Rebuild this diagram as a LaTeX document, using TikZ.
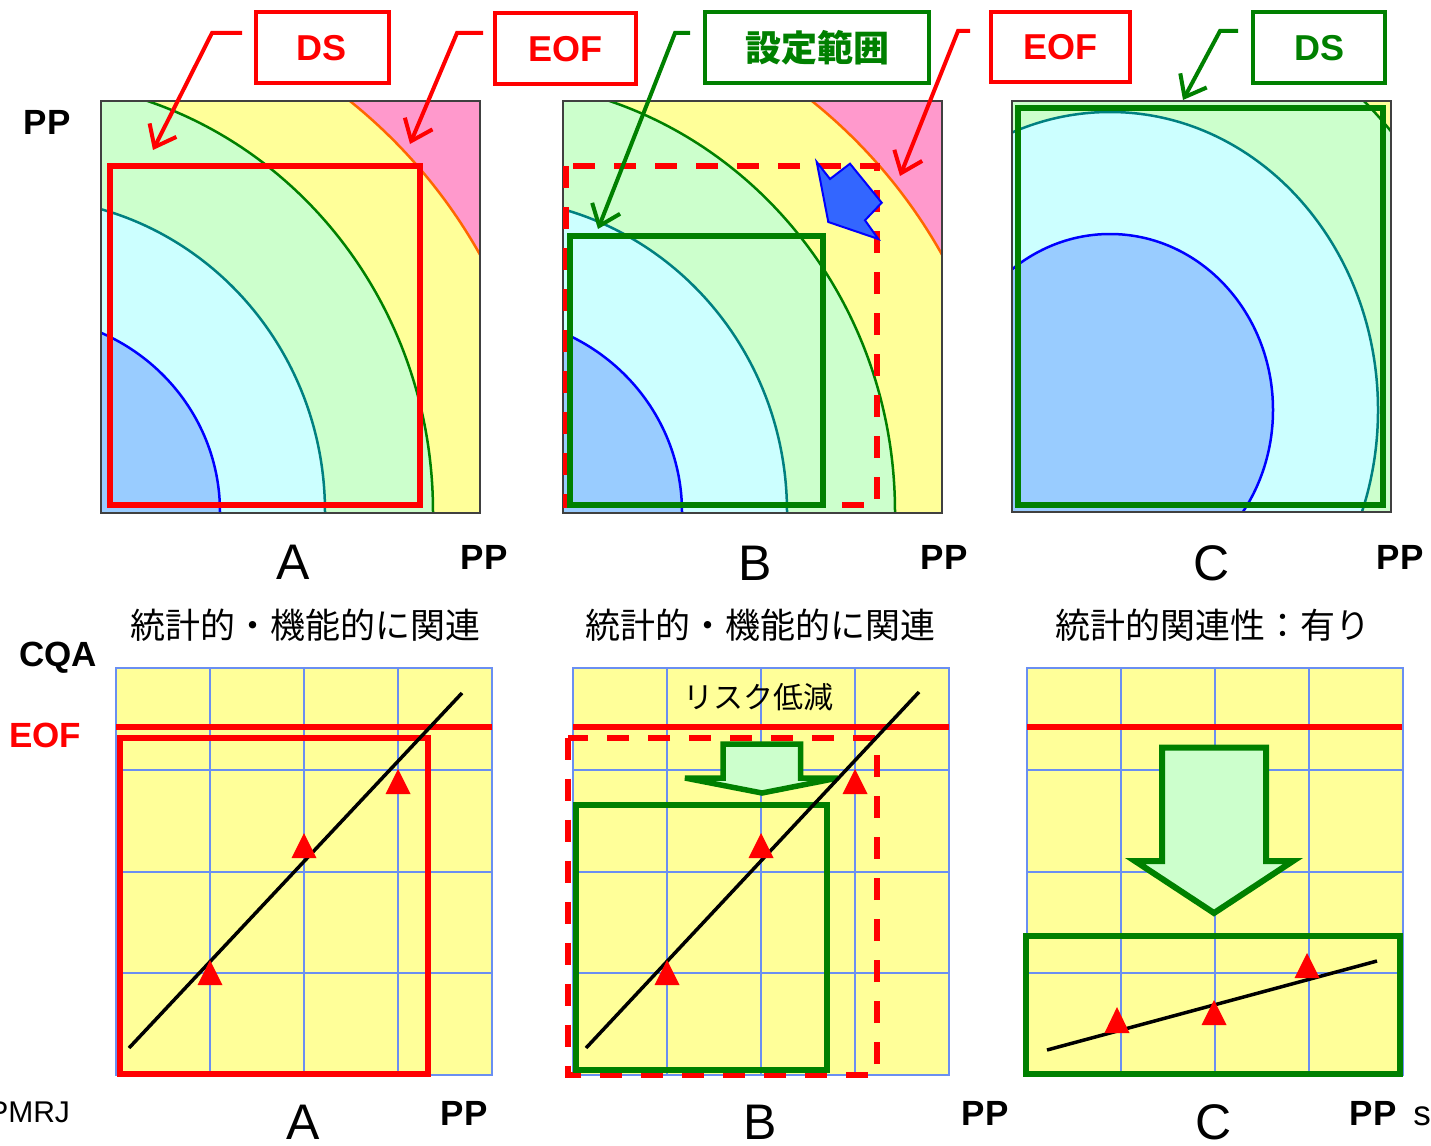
\documentclass[tikz,border=0pt]{standalone}
\usepackage{fontspec}
\setmainfont{Liberation Sans}
\newfontfamily\cjk{Noto Sans CJK JP}
\usetikzlibrary{arrows.meta}
\definecolor{cpink}{HTML}{FF99CC}
\definecolor{cyel}{HTML}{FFFF99}
\definecolor{cgrn}{HTML}{CCFFCC}
\definecolor{ccyan}{HTML}{CCFFFF}
\definecolor{cblue}{HTML}{99CCFF}
\definecolor{dgreen}{HTML}{008000}
\definecolor{tealc}{HTML}{008080}
\definecolor{orng}{HTML}{FF6600}
\definecolor{gridb}{HTML}{6A8FF2}
\definecolor{arrblue}{HTML}{3366FF}
\definecolor{pborder}{HTML}{404040}

\tikzset{
  every node/.style={inner sep=0pt, outer sep=0pt},
  boldlbl/.style={font=\fontsize{35}{40}\selectfont\bfseries},
  biglbl/.style={font=\fontsize{50}{56}\selectfont},
  jtitle/.style={font=\cjk\fontsize{35}{40}\selectfont},
  tagbox/.style={draw, fill=white, line width=4pt, minimum height=71pt, font=\fontsize{36}{40}\selectfont\bfseries},
  callout/.style={line width=4pt, line join=miter, -{Straight Barb[length=19pt,width=30pt]}},
  gridline/.style={draw=gridb, line width=1.8pt},
  arcline/.style={line width=2.5pt},
  panelborder/.style={draw=pborder, line width=1.4pt},
  thickbox/.style={line width=6pt},
  dashbox/.style={draw=red, line width=6pt, dash pattern=on 22pt off 19pt},
  blockarrow/.style={draw=dgreen, fill=cgrn, line width=5.5pt, line join=miter},
  trend/.style={line width=3.5pt},
}

\newcommand\arcsAB{%
  \begin{scope}
    \clip (101,101) rectangle (480,513);
    \fill[cpink] (101,101) rectangle (480,513);
    \filldraw[fill=cyel, draw=orng, arcline] (20,512) ellipse [x radius=527pt, y radius=527pt];
    \filldraw[fill=cgrn, draw=dgreen, arcline] (20,512) ellipse [x radius=413pt, y radius=432pt];
    \filldraw[fill=ccyan, draw=tealc, arcline] (20,512) ellipse [x radius=305pt, y radius=314pt];
    \filldraw[fill=cblue, draw=blue, arcline] (20,512) ellipse [x radius=200pt, y radius=196pt];
  \end{scope}
  \draw[panelborder] (101,101) rectangle (480,513);}

\newcommand\gridpanel{%
  \fill[cyel] (0,0) rectangle (376,407);
  \foreach \gx in {94,188,282} {\draw[gridline] (\gx,0) -- (\gx,407);}
  \foreach \gy in {102,204,305} {\draw[gridline] (0,\gy) -- (376,\gy);}
  \draw[gridline] (0,0) rectangle (376,407);}

\newcommand\redtri[3]{\fill[red] (#1,#2) -- ({#1+12.5},#3) -- ({#1-12.5},#3) -- cycle;}

\begin{document}
\begin{tikzpicture}[x=1pt,y=-1pt]
\useasboundingbox (0,0) rectangle (1431,1145);
\fill[white] (0,0) rectangle (1431,1145);

% ---------- top panels ----------
\arcsAB
\begin{scope}[shift={(462,0)}]
  \arcsAB
\end{scope}
\begin{scope}
  \clip (1012,101) rectangle (1391,512);
  \fill[cyel] (1012,101) rectangle (1391,512);
  \filldraw[fill=cgrn, draw=dgreen, arcline] (1110,410) ellipse [x radius=377pt, y radius=418pt];
  \filldraw[fill=ccyan, draw=tealc, arcline] (1110,410) ellipse [x radius=268pt, y radius=298pt];
  \filldraw[fill=cblue, draw=blue, arcline] (1110,410) ellipse [x radius=163pt, y radius=176pt];
\end{scope}
\draw[panelborder] (1012,101) rectangle (1391,512);

% panel A: DS
\draw[red, thickbox] (110,166) rectangle (420,505);
% panel B: dashed EOF and green set range
\draw[dashbox] (566,166) rectangle (877,505);
\draw[dgreen, thickbox] (569.5,236) rectangle (822.5,505);
\draw[draw=blue, fill=arrblue, line width=2pt, line join=miter]
  (816.7,162) -- (830,179) -- (850,163.7) -- (881.7,202.7) -- (865,220.3)
  -- (878.3,239) -- (828.3,222) -- cycle;
% panel C: DS
\draw[dgreen, thickbox] (1018,108.5) rectangle (1383,505);

% tag boxes
\node[tagbox, draw=red, text=red, minimum width=133pt] (dsA) at (322,48) {DS};
\node[tagbox, draw=red, text=red, minimum width=141pt] (eofA) at (565.5,49) {EOF};
\node[tagbox, draw=dgreen, text=dgreen, minimum width=224pt, font=\cjk\fontsize{36}{40}\selectfont\bfseries] (setB) at (817,48) {設定範囲};
\node[tagbox, draw=red, text=red, minimum width=139pt, minimum height=70pt] (eofB) at (1060,47) {EOF};
\node[tagbox, draw=dgreen, text=dgreen, minimum width=132pt] (dsC) at (1319,48) {DS};

% callouts
\coordinate (dsAs) at (242,33);  \coordinate (dsAk) at (212,33);  \coordinate (dsAt) at (153,150);
\coordinate (eofAs) at (483,33); \coordinate (eofAk) at (457,33); \coordinate (eofAt) at (410,144);
\coordinate (setBs) at (690,33); \coordinate (setBk) at (675,33); \coordinate (setBt) at (598,229);
\coordinate (eofBs) at (970,31); \coordinate (eofBk) at (958,31); \coordinate (eofBt) at (900,176);
\coordinate (dsCs) at (1238,31); \coordinate (dsCk) at (1220,31); \coordinate (dsCt) at (1183,100);
\draw[callout, red] (dsAs) -- (dsAk) -- (dsAt);
\draw[callout, red] (eofAs) -- (eofAk) -- (eofAt);
\draw[callout, dgreen] (setBs) -- (setBk) -- (setBt);
\draw[callout, red] (eofBs) -- (eofBk) -- (eofBt);
\draw[callout, dgreen] (dsCs) -- (dsCk) -- (dsCt);

% top labels
\node[boldlbl] (ppY) at (47,122) {PP};
\node[biglbl] (labA) at (293,562) {A};
\node[boldlbl] (ppA) at (484,557) {PP};
\node[biglbl] (labB) at (755,563) {B};
\node[boldlbl] (ppB) at (944,557) {PP};
\node[biglbl] (labC) at (1212,563) {C};
\node[boldlbl] (ppC) at (1400,557) {PP};

% titles
\node[jtitle] (titA) at (305,625) {統計的・機能的に関連};
\node[jtitle] (titB) at (760,625) {統計的・機能的に関連};
\node[jtitle] (titC) at (1213,625) {統計的関連性：有り};
\node[boldlbl] (cqa) at (58,658) {CQA};
\node[boldlbl, text=red] (eofL) at (45,735) {EOF};

% ---------- bottom panel A ----------
\begin{scope}[shift={(116,668)}] \gridpanel \end{scope}
\draw[red, line width=6pt] (116,726.5) -- (492,726.5);
\draw[red, thickbox] (120,737.5) rectangle (427.5,1074);
\draw[trend] (129,1048) -- (462,693);
\redtri{210}{960}{985}
\redtri{304}{833}{858}
\redtri{398}{769}{794}

% ---------- bottom panel B ----------
\begin{scope}[shift={(573,668)}] \gridpanel \end{scope}
\draw[red, line width=6pt] (573,726.5) -- (949,726.5);
\node[font=\cjk\fontsize{30}{34}\selectfont] (risk) at (758,697) {リスク低減};
\draw[dashbox] (568,737.5) rectangle (876.5,1074.5);
\draw[blockarrow] (723,744) -- (800.5,744) -- (800.5,778) -- (838,778) -- (762,793)
  -- (685,778) -- (723,778) -- cycle;
\draw[dgreen, thickbox] (575.5,804.5) rectangle (827,1069.5);
\draw[trend] (586,1048) -- (919,692);
\redtri{667}{960}{985}
\redtri{761}{833}{858}
\redtri{855}{769}{794}

% ---------- bottom panel C ----------
\begin{scope}[shift={(1027,668)}] \gridpanel \end{scope}
\draw[red, line width=6pt] (1027,726.5) -- (1402,726.5);
\draw[blockarrow, line width=6pt] (1162,747.5) -- (1266,747.5) -- (1266,861) -- (1293,861)
  -- (1214,913) -- (1135,861) -- (1162,861) -- cycle;
\draw[dgreen, thickbox] (1026,935.5) rectangle (1400,1074);
\draw[trend] (1047,1050) -- (1377,961);
\redtri{1117}{1007}{1033}
\redtri{1214}{1000}{1025}
\redtri{1307}{953}{978}

% bottom labels
\node[font=\fontsize{30}{36}\selectfont, anchor=east] (pmrj) at (70,1112) {PMRJ};
\node[biglbl] (labA2) at (303,1122) {A};
\node[boldlbl] (ppA2) at (464,1113) {PP};
\node[biglbl] (labB2) at (760,1122) {B};
\node[boldlbl] (ppB2) at (985,1113) {PP};
\node[biglbl] (labC2) at (1214,1122) {C};
\node[boldlbl] (ppC2) at (1373,1113) {PP};
\node[font=\fontsize{35}{40}\selectfont] (sS) at (1422,1116) {s};
\end{tikzpicture}
\end{document}
